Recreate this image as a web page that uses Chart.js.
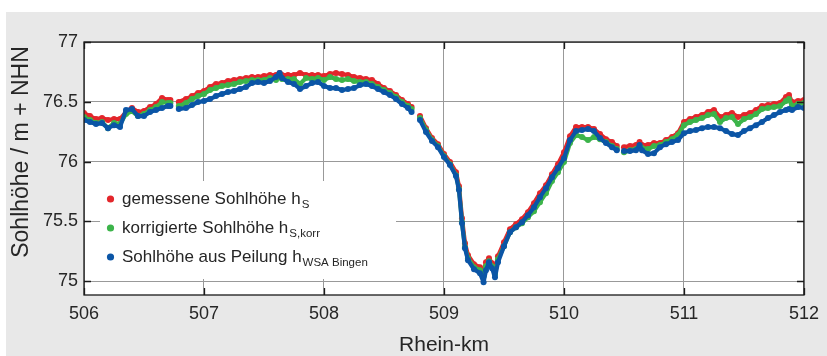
<!DOCTYPE html>
<html><head><meta charset="utf-8">
<script src="https://cdn.jsdelivr.net/npm/chart.js@4.4.1/dist/chart.umd.min.js"></script>
<style>html,body{margin:0;padding:0;background:#fff;}#wrap{width:827px;height:356px;}</style>
</head><body><div id="wrap"><canvas id="c" width="827" height="356"></canvas></div>
<script>
// Rhein-km positions (null values mark gaps in the survey)
const km = [
 506.00,506.05,506.10,506.15,506.20,506.25,506.30,506.35,506.40,506.45,506.50,506.55,506.60,506.65,506.70,506.72,506.755,506.79,506.85,506.90,506.95,
 507.00,507.05,507.10,507.15,507.20,507.25,507.30,507.35,507.40,507.45,507.50,507.55,507.60,507.63,507.65,507.70,507.75,507.80,507.85,507.90,507.95,
 508.00,508.05,508.10,508.15,508.20,508.25,508.30,508.35,508.40,508.45,508.50,508.55,508.60,508.65,508.70,508.73,508.765,508.80,508.85,508.90,508.95,
 509.00,509.05,509.10,509.125,509.15,509.175,509.20,509.25,509.30,509.33,509.35,509.375,509.40,509.425,509.45,509.50,509.55,509.60,509.65,509.70,509.75,509.80,509.85,509.90,509.95,
 510.00,510.05,510.10,510.15,510.20,510.25,510.30,510.35,510.40,510.44,510.47,510.50,510.55,510.60,510.63,510.65,510.70,510.75,510.80,510.85,510.90,510.95,
 511.00,511.05,511.10,511.15,511.20,511.25,511.30,511.35,511.40,511.45,511.50,511.55,511.60,511.65,511.70,511.75,511.80,511.85,511.875,511.90,511.95,512.00
];
// gemessene Sohlhöhe h_S
const gemessen = [
 76.406,76.381,76.356,76.364,76.347,76.356,76.356,76.414,76.448,76.414,76.423,76.456,76.481,76.531,76.515,76.515,null,76.498,76.523,76.548,76.573,
 76.590,76.623,76.649,76.657,76.674,76.682,76.690,76.699,76.707,76.707,76.715,76.724,76.724,76.741,76.724,76.724,76.724,76.741,76.724,76.724,76.724,
 76.715,76.732,76.741,76.732,76.724,76.707,76.699,76.690,76.682,76.649,76.615,76.590,76.556,76.515,76.481,76.456,null,76.381,76.280,76.197,76.146,
 76.063,75.996,75.912,75.795,75.527,75.318,75.218,75.142,75.117,75.075,75.159,75.192,75.151,75.092,75.209,75.326,75.435,75.477,75.519,75.577,75.653,75.736,75.803,75.895,75.979,
 76.079,76.213,76.289,76.289,76.289,76.272,76.230,76.188,76.163,76.130,null,76.121,76.130,76.138,76.163,76.138,76.138,76.155,76.155,76.180,76.205,76.238,
 76.331,76.356,76.372,76.389,76.414,76.431,76.372,76.389,76.406,76.372,76.389,76.406,76.431,76.464,76.473,76.481,76.490,76.540,76.556,76.498,76.506,76.515
];
// korrigierte Sohlhöhe h_S,korr
const korrigiert = [
 76.372,76.347,76.322,76.331,76.280,76.322,76.314,76.398,76.423,76.381,76.398,76.431,76.456,76.498,76.490,76.490,null,76.464,76.490,76.523,76.548,
 76.565,76.598,76.615,76.632,76.640,76.649,76.665,76.674,76.682,76.682,76.682,76.699,76.682,76.724,76.690,76.690,76.690,76.649,76.699,76.690,76.699,
 76.682,76.707,76.690,76.682,76.690,76.674,76.665,76.665,76.649,76.623,76.598,76.573,76.540,76.498,76.464,76.439,null,76.364,76.264,76.180,76.130,
 76.046,75.979,75.887,75.770,75.494,75.285,75.192,75.117,75.092,75.042,75.126,75.167,75.126,75.059,75.184,75.293,75.410,75.452,75.485,75.536,75.586,75.661,75.736,75.837,75.912,
 75.996,76.155,76.222,76.205,76.180,76.205,76.188,76.163,76.130,76.105,null,76.079,76.096,76.105,76.130,76.113,76.105,76.130,76.138,76.163,76.188,76.222,
 76.305,76.331,76.347,76.364,76.389,76.398,76.331,76.364,76.372,76.314,76.356,76.372,76.398,76.439,76.448,76.456,76.464,76.506,76.523,76.464,76.481,76.490
];
// Sohlhöhe aus Peilung h_WSA Bingen
const peilung = [
 76.347,76.331,76.314,76.322,76.280,76.305,76.289,76.431,76.439,76.381,76.381,76.414,76.431,76.448,76.464,76.464,null,76.439,76.448,76.473,76.498,
 76.506,76.523,76.548,76.565,76.582,76.590,76.607,76.623,76.657,76.665,76.657,76.674,76.707,76.741,76.699,76.665,76.649,76.607,76.632,76.657,76.665,
 76.632,76.615,76.615,76.598,76.607,76.615,76.640,76.649,76.632,76.607,76.582,76.556,76.523,76.481,76.448,76.414,null,76.347,76.247,76.172,76.121,
 76.038,75.971,75.879,75.762,75.485,75.276,75.176,75.100,75.067,74.992,75.092,75.159,75.109,75.033,75.159,75.293,75.410,75.452,75.494,75.552,75.619,75.703,75.778,75.870,75.946,
 76.029,76.180,76.255,76.264,76.272,76.255,76.197,76.155,76.121,76.096,null,76.088,76.088,76.096,76.138,76.096,76.063,76.071,76.121,76.146,76.163,76.180,
 76.238,76.255,76.264,76.280,76.289,76.289,76.280,76.255,76.230,76.222,76.255,76.280,76.305,76.331,76.364,76.389,76.414,76.431,76.439,76.431,76.456,76.448
];
const xTicks = [506,507,508,509,510,511,512];
const yTicks = [75,75.5,76,76.5,77];
const yTitle = 'Sohlhöhe / m + NHN';
const legendMain = ['gemessene Sohlhöhe h','korrigierte Sohlhöhe h','Sohlhöhe aus Peilung h'];
const legendSub = ['S','S,korr','WSA Bingen'];
const colors = ['#e3262b','#3cb44a','#0b55a6'];

const FONT = "'Liberation Sans', Arial, Helvetica, sans-serif";
const TXT = '#262626';

function series(vals){ return km.map((x,i)=>({x:x, y:vals[i]})); }
function ds(label, vals, color, order){
  return {label, data: series(vals), showLine:true, spanGaps:false,
    borderColor: color, backgroundColor: color, borderWidth: 4.2,
    borderJoinStyle:'round', borderCapStyle:'round',
    pointRadius: 3, pointBorderWidth: 0, pointHoverRadius: 0, order};
}

const framePlugin = {
  id:'frame',
  beforeDraw(chart){
    const {ctx, chartArea:a} = chart;
    ctx.save();
    ctx.fillStyle='#ffffff'; ctx.fillRect(0,0,chart.width,chart.height);
    ctx.fillStyle='#e8e8e8'; ctx.fillRect(6,12,chart.width-6,chart.height-12);
    ctx.fillStyle='#ffffff'; ctx.fillRect(a.left,a.top,a.right-a.left,a.bottom-a.top);
    ctx.restore();
  },
  afterDraw(chart){
    const {ctx} = chart;
    ctx.save();
    ctx.translate(22,152); ctx.rotate(-Math.PI/2);
    ctx.fillStyle=TXT; ctx.textAlign='center'; ctx.textBaseline='middle';
    ctx.font='23px '+FONT;
    ctx.fillText(yTitle,0,0);
    ctx.restore();
  },
  afterDatasetsDraw(chart){
    const {ctx, chartArea:a, scales} = chart;
    ctx.save();
    // legend box
    const lx=100, ly=181, lw=296, lh=98;
    ctx.fillStyle='#ffffff'; ctx.fillRect(lx,ly,lw,lh);
    const rows=[199,228,257];
    for(let i=0;i<3;i++){
      ctx.fillStyle=colors[i];
      ctx.beginPath(); ctx.arc(110.5,rows[i],3.6,0,Math.PI*2); ctx.fill();
      ctx.fillStyle=TXT; ctx.textBaseline='middle'; ctx.textAlign='left';
      ctx.font='17px '+FONT;
      ctx.fillText(legendMain[i],122,rows[i]);
      const w=ctx.measureText(legendMain[i]).width;
      ctx.font='11.5px '+FONT;
      ctx.fillText(legendSub[i],122+w+1,rows[i]+6);
    }
    // frame and inward ticks
    ctx.strokeStyle='#1a1a1a'; ctx.lineWidth=1.3;
    ctx.strokeRect(a.left,a.top,a.right-a.left,a.bottom-a.top);
    ctx.beginPath();
    const L=7;
    xTicks.forEach(v=>{const x=Math.round(scales.x.getPixelForValue(v))+0.5;
      ctx.moveTo(x,a.bottom); ctx.lineTo(x,a.bottom-L);
      ctx.moveTo(x,a.top); ctx.lineTo(x,a.top+L);});
    yTicks.forEach(v=>{const y=Math.round(scales.y.getPixelForValue(v))+0.5;
      ctx.moveTo(a.left,y); ctx.lineTo(a.left+L,y);
      ctx.moveTo(a.right,y); ctx.lineTo(a.right-L,y);});
    ctx.stroke();
    ctx.restore();
  }
};

new Chart(document.getElementById('c'), {
  type:'scatter',
  data:{datasets:[
    ds('gemessene Sohlhöhe', gemessen, colors[0], 2),
    ds('korrigierte Sohlhöhe', korrigiert, colors[1], 1),
    ds('Sohlhöhe aus Peilung', peilung, colors[2], 0)
  ]},
  options:{
    responsive:false, animation:false, devicePixelRatio:1,
    layout:{padding:{left:0, top:42, right:16, bottom:0}},
    plugins:{legend:{display:false}, tooltip:{enabled:false}},
    scales:{
      x:{type:'linear', min:506, max:512,
        afterBuildTicks(s){ s.ticks = xTicks.map(v=>({value:v})); },
        afterFit(s){ s.height = 61; },
        ticks:{color:TXT, font:{family:FONT,size:18}, padding:8, maxRotation:0, callback:v=>String(v)},
        grid:{color:'#999999', lineWidth:1, drawTicks:false},
        border:{display:false},
        title:{display:true, text:'Rhein-km', color:TXT, font:{family:FONT,size:21,lineHeight:1}, padding:{top:0,bottom:0.5}}
      },
      y:{type:'linear', min:74.885, max:77,
        afterBuildTicks(s){ s.ticks = yTicks.map(v=>({value:v})); },
        afterFit(s){ s.width = 84; },
        ticks:{color:TXT, font:{family:FONT,size:18}, padding:6, callback:v=>String(Math.round(v*10)/10)},
        grid:{color:'#999999', lineWidth:1, drawTicks:false},
        border:{display:false},
        title:{display:false}
      }
    }
  },
  plugins:[framePlugin]
});
</script>
</body></html>
